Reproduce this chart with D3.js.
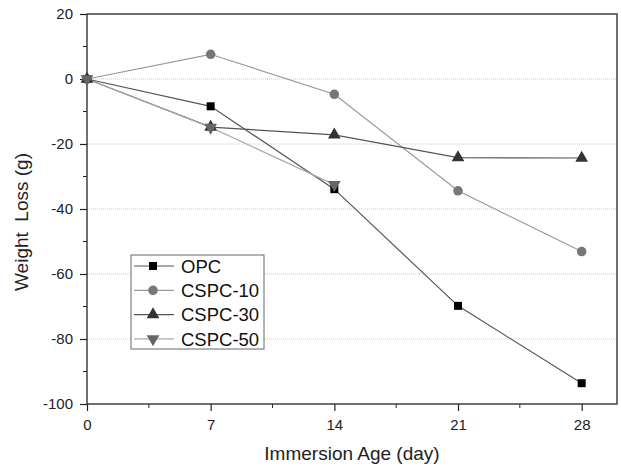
<!DOCTYPE html>
<html>
<head>
<meta charset="utf-8">
<script src="https://cdn.jsdelivr.net/npm/d3@7"></script>
<style>
  html, body { margin: 0; padding: 0; background: #fff; }
  svg { display: block; }
</style>
</head>
<body>
<div id="chart"></div>
<script>
// Weight loss vs immersion age, four mixes.

const DAYS = [0, 7, 14, 21, 28];
const OPC     = [0, -8.4, -33.9, -69.8, -93.6];
const CSPC_10 = [0, 7.6, -4.7, -34.4, -53.1];
const CSPC_30 = [0, -14.8, -17.2, -24.2, -24.3];
const CSPC_50 = [0, -14.9, -32.5];          // only measured to day 14

const Y_TICKS = [20, 0, -20, -40, -60, -80, -100];
const X_TICKS = [0, 7, 14, 21, 28];

const SERIES = [
  { name: "OPC",     values: OPC,     symbol: d3.symbolSquare,   size: 64, fill: "#000", line: "#555" },
  { name: "CSPC-10", values: CSPC_10, symbol: d3.symbolCircle,   size: 72, fill: "#777", line: "#999" },
  { name: "CSPC-30", values: CSPC_30, symbol: d3.symbolTriangle, size: 70, fill: "#333", line: "#555" },
  { name: "CSPC-50", values: CSPC_50, symbol: d3.symbolTriangle, size: 70, fill: "#666", line: "#aaa", flip: true },
];

const W = 621, H = 468;
const m = { top: 14, right: 4, bottom: 64, left: 87 };
const iw = W - m.left - m.right;
const ih = H - m.top - m.bottom;
const FONT = "Arial, 'Liberation Sans', sans-serif";

const svg = d3.select("#chart").append("svg")
  .attr("width", W).attr("height", H);

const g = svg.append("g").attr("transform", `translate(${m.left},${m.top})`);

const x = d3.scaleLinear().domain([0, 30]).range([0, iw]);
const y = d3.scaleLinear().domain([-100, 20]).range([ih, 0]);

// dotted horizontal grid
g.selectAll(".grid-h")
  .data(Y_TICKS.filter(v => v < 20 && v > -100))
  .join("line")
    .attr("x1", 0).attr("x2", iw)
    .attr("y1", d => y(d)).attr("y2", d => y(d))
    .attr("stroke", "#c8c8c8")
    .attr("stroke-width", 1)
    .attr("stroke-dasharray", "1,1");

// minor ticks
g.selectAll(".ytick-minor")
  .data(d3.range(-90, 20, 20))
  .join("line")
    .attr("x1", -4).attr("x2", 0)
    .attr("y1", d => y(d)).attr("y2", d => y(d))
    .attr("stroke", "#222");

g.selectAll(".xtick-minor")
  .data([3.5, 10.5, 17.5, 24.5])
  .join("line")
    .attr("x1", d => x(d)).attr("x2", d => x(d))
    .attr("y1", ih).attr("y2", ih + 4)
    .attr("stroke", "#222");

// axes (plain hyphen minus, as in the original)
const fmt = d => String(d);
const yAxisG = g.append("g")
  .call(d3.axisLeft(y).tickValues(Y_TICKS).tickFormat(fmt).tickSize(7).tickPadding(7));
const xAxisG = g.append("g")
  .attr("transform", `translate(0,${ih})`)
  .call(d3.axisBottom(x).tickValues(X_TICKS).tickFormat(fmt).tickSize(7).tickPadding(8));

[yAxisG, xAxisG].forEach(a => {
  a.select(".domain").remove();
  a.selectAll(".tick line").attr("stroke", "#222").attr("stroke-width", 1.2);
  a.selectAll("text")
    .attr("fill", "#222")
    .attr("font-size", "15px")
    .attr("font-family", FONT);
});

// frame
g.append("rect")
  .attr("x", 0).attr("y", 0)
  .attr("width", iw).attr("height", ih)
  .attr("fill", "none")
  .attr("stroke", "#333")
  .attr("stroke-width", 1.4);

// lines + markers
const lineFn = d3.line()
  .x((d, i) => x(DAYS[i]))
  .y(d => y(d));

function marker(sel, s) {
  sel.attr("d", d3.symbol().type(s.symbol).size(s.size))
    .attr("fill", s.fill);
}

SERIES.forEach(s => {
  g.append("path")
    .datum(s.values)
    .attr("d", lineFn)
    .attr("fill", "none")
    .attr("stroke", s.line)
    .attr("stroke-width", 1.2);
});

SERIES.forEach(s => {
  g.selectAll(null)
    .data(s.values)
    .join("path")
      .attr("transform", (d, i) =>
        `translate(${x(DAYS[i])},${y(d)})` + (s.flip ? " rotate(180)" : ""))
      .call(marker, s);
});

// legend
const lg = svg.append("g").attr("transform", "translate(131,255)");
lg.append("rect")
  .attr("width", 133).attr("height", 94)
  .attr("fill", "#fff")
  .attr("stroke", "#666")
  .attr("stroke-width", 1);

SERIES.forEach((s, i) => {
  const row = lg.append("g").attr("transform", `translate(0,${11 + i * 24.3})`);
  row.append("line")
    .attr("x1", 3).attr("x2", 43)
    .attr("stroke", s.line).attr("stroke-width", 1.2);
  row.append("path")
    .attr("transform", "translate(22,0)" + (s.flip ? " rotate(180)" : ""))
    .call(marker, s);
  row.append("text")
    .attr("x", 50).attr("y", 0)
    .attr("dy", "0.36em")
    .attr("fill", "#111")
    .attr("font-size", "18.5px")
    .attr("font-family", FONT)
    .text(s.name);
});

// axis titles
svg.append("text")
  .attr("transform", "translate(28,222) rotate(-90)")
  .attr("text-anchor", "middle")
  .attr("fill", "#222")
  .attr("font-size", "19px")
  .attr("font-family", FONT)
  .style("white-space", "pre")
  .text("Weight  Loss (g)");

svg.append("text")
  .attr("x", 352).attr("y", 460)
  .attr("text-anchor", "middle")
  .attr("fill", "#222")
  .attr("font-size", "19px")
  .attr("font-family", FONT)
  .text("Immersion Age (day)");
</script>
</body>
</html>
